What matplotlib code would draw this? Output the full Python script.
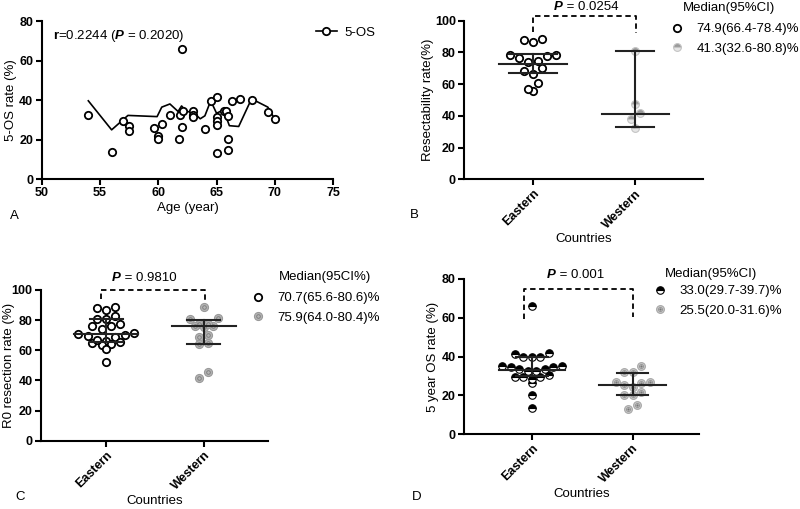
import numpy as np
import matplotlib
matplotlib.use("Agg")
import matplotlib.pyplot as plt
from matplotlib.lines import Line2D
from matplotlib.legend_handler import HandlerTuple

plt.rcParams['font.family'] = ['Liberation Sans', 'DejaVu Sans']
plt.rcParams['mathtext.fontset'] = 'custom'
plt.rcParams['mathtext.rm'] = 'Liberation Sans'
plt.rcParams['mathtext.it'] = 'Liberation Sans:italic'
plt.rcParams['mathtext.bf'] = 'Liberation Sans:bold'
plt.rcParams['mathtext.bfit'] = 'Liberation Sans:bold:italic'

# ---- panel A: age vs 5-year OS ----
age = [54.0, 56.0, 57.0, 57.5, 57.5, 59.6, 60.0, 60.0, 60.3, 61.0, 61.8, 61.9,
       62.0, 62.0, 62.1, 63.0, 63.0, 63.0, 64.0, 64.5, 65.0, 65.0, 65.0, 65.0,
       65.0, 65.6, 65.8, 66.0, 66.0, 66.0, 66.3, 67.0, 68.0, 69.4, 70.0]
os5 = [32.5, 13.5, 29.6, 27.0, 24.4, 26.0, 21.9, 20.2, 28.1, 32.5, 20.2, 32.5,
       65.8, 26.1, 34.5, 34.5, 32.5, 31.6, 25.4, 39.6, 41.5, 31.5, 29.5, 27.3,
       13.0, 34.5, 34.5, 32.0, 20.2, 14.8, 39.7, 40.6, 40.0, 33.8, 30.3]
fit_age = [54.0, 56.0, 57.4, 59.9, 60.3, 61.0, 61.7, 62.0, 62.4, 63.0, 63.6,
           64.0, 64.5, 65.0, 65.6, 66.1, 66.9, 68.0, 69.4, 70.0]
fit_os = [39.6, 24.9, 32.2, 31.6, 36.4, 38.0, 34.2, 37.0, 34.2, 33.8, 30.5,
          32.0, 39.6, 33.3, 35.0, 27.0, 26.6, 40.6, 36.4, 30.3]

groups = ['Eastern', 'Western']

# ---- panel B: resectability ----
b_east = [87.8, 86.3, 88.4, 78.4, 76.3, 74.2, 74.8, 77.7, 78.4, 68.5, 66.4,
          70.0, 60.9, 55.9, 56.7]
b_west = [81.1, 47.5, 41.6, 38.0, 32.6]
b_stats = [(72.7, 67.2, 79.0), (41.4, 32.8, 80.9)]
b_labels = ['74.9(66.4-78.4)%', '41.3(32.6-80.8)%']

# ---- panel C: R0 resection ----
c_east = [88.9, 87.8, 86.7, 82.7, 80.8, 80.8, 77.4, 76.3, 76.3, 74.1, 71.2,
          69.5, 70.1, 68.6, 70.8, 66.4, 65.0, 64.2, 65.7, 63.5, 60.6, 52.4, 66.8]
c_west = [88.5, 81.6, 80.6, 77.2, 76.3, 75.2, 76.3, 77.2, 70.1, 69.0, 64.6,
          64.2, 45.8, 41.4]
c_stats = [(70.7, 65.6, 80.6), (76.0, 64.0, 80.4)]
c_labels = ['70.7(65.6-80.6)%', '75.9(64.0-80.4)%']

# ---- panel D: 5 year OS ----
d_east = [66.1, 41.6, 39.9, 39.9, 39.9, 41.1, 35.1, 34.4, 33.4, 32.7, 32.7,
          33.4, 34.4, 35.1, 30.5, 29.6, 29.6, 29.6, 28.2, 26.2, 20.1, 13.6]
d_west = [32.2, 32.2, 35.1, 27.0, 24.4, 25.3, 26.2, 27.0, 20.1, 20.1, 21.8,
          12.7, 15.0]
d_stats = [(33.0, 29.7, 39.7), (25.5, 20.0, 31.6)]
d_labels = ['33.0(29.7-39.7)%', '25.5(20.0-31.6)%']

TICK = 9
LAB = 9.5
W, H = 800, 509


def swarm(vals, xpix, ypix, step, binpx):
    # GraphPad-like rows: group close values, spread them side by side
    vals = np.asarray(vals, float)
    order = np.argsort(-vals, kind='stable')
    offs = np.zeros(len(vals))
    i = 0
    while i < len(order):
        top = vals[order[i]]
        row = [order[i]]
        j = i + 1
        while j < len(order) and (top - vals[order[j]]) * ypix < binpx:
            row.append(order[j])
            j += 1
        k = len(row)
        pos = (np.arange(k) - (k - 1) / 2) * step
        pos = pos[np.argsort(np.abs(pos), kind='stable')]
        row = sorted(row, key=lambda r: vals[r])
        for r, p in zip(row, pos):
            offs[r] = p / xpix
        i = j
    return offs


def style_axes(ax):
    for s in ['top', 'right']:
        ax.spines[s].set_visible(False)
    for s in ['left', 'bottom']:
        ax.spines[s].set_linewidth(1.5)
    ax.tick_params(width=1.5, length=4, labelsize=TICK, pad=2)
    for t in ax.get_xticklabels() + ax.get_yticklabels():
        t.set_fontweight('bold')


fig = plt.figure(figsize=(8.0, 5.09), dpi=100)

# ---------------- A ----------------
axA = fig.add_axes([0.0521, 0.6483, 0.3643, 0.3104])
axA.plot(age, os5, ls='none', marker='o', ms=5.3, mfc='white', mec='black',
         mew=1.3, zorder=3)
axA.plot(fit_age, fit_os, color='black', lw=1.2, zorder=2)
axA.set_xlim(50, 75)
axA.set_ylim(0, 80)
axA.set_xticks(range(50, 80, 5))
axA.set_yticks(range(0, 81, 20))
axA.set_xlabel('Age (year)', fontsize=LAB, labelpad=2)
axA.set_ylabel('5-OS rate (%)', fontsize=LAB)
axA.yaxis.set_label_coords(-0.083, 0.5)
style_axes(axA)
axA.text(51.0, 72.4, r'$\mathbf{r}$=0.2244 ($\mathbfit{P}$ = 0.2020)',
         fontsize=LAB, ha='left', va='center')
h = Line2D([], [], color='black', lw=1.2, marker='o', ms=5.3, mfc='white',
           mec='black', mew=1.3)
axA.legend([h], ['5-OS'], loc='center left', bbox_to_anchor=(0.9, 0.925),
           frameon=False, fontsize=LAB, handlelength=1.6, handletextpad=0.6)
fig.text(0.0125, 0.575, 'A', fontsize=LAB, ha='left', va='center')


def dot_panel(ax, east, west, stats, mk, legend_labels, title, ymax, ystep,
              ci_w, bracket, ptext, leg_pos, step=9.3, binpx=7.5):
    x0, x1 = -0.67, 1.66
    ax.set_xlim(x0, x1)
    ax.set_ylim(0, ymax)
    bb = ax.get_window_extent(fig.canvas.get_renderer())
    xpix = bb.width / (x1 - x0)
    ypix = bb.height / ymax
    handles = []
    for i, vals in enumerate([east, west]):
        offs = swarm(vals, xpix, ypix, step, binpx)
        for kw in mk[i]:
            ax.plot(i + offs, vals, ls='none', zorder=3, **kw)
        handles.append(tuple(Line2D([], [], ls='none', **kw) for kw in mk[i]))
        med, lo, hi = stats[i]
        ax.plot([i - 0.33, i + 0.33], [med, med], color='#222222', lw=1.5, zorder=4)
        ax.plot([i - ci_w[i], i + ci_w[i]], [lo, lo], color='#222222', lw=1.5, zorder=4)
        ax.plot([i - ci_w[i], i + ci_w[i]], [hi, hi], color='#222222', lw=1.5, zorder=4)
        ax.plot([i, i], [lo, hi], color='#222222', lw=1.5, zorder=4)
    bx0, bx1, by0, bytop, by1 = bracket
    ax.plot([bx0, bx0, bx1, bx1], [by0, bytop, bytop, by1], color='black',
            lw=1.3, ls=(0, (3, 2)), clip_on=False)
    px, py, pval = ptext
    ax.text(px, py, 'P', fontsize=LAB, fontweight='bold', fontstyle='italic',
            ha='right', va='center')
    ax.text(px, py, ' = ' + pval, fontsize=LAB, ha='left', va='center')
    ax.set_xticks([0, 1])
    ax.set_xticklabels(groups, rotation=45, ha='right', rotation_mode='anchor')
    ax.set_yticks(np.arange(0, ymax + 1, ystep))
    ax.set_xlabel('Countries', fontsize=LAB, labelpad=2)
    style_axes(ax)
    # legend: title text + marker entries (pixel positions in the figure)
    title_x, title_y, mark_x, row1_y = leg_pos
    fig.text(title_x / W, 1 - title_y / H, title, fontsize=LAB,
             ha='left', va='center')
    half = 0.8 * LAB * 100 / 72 / 2
    ax.legend(handles, legend_labels, loc='upper left',
              bbox_to_anchor=((mark_x - half) / W, 1 - (row1_y - 7) / H),
              bbox_transform=fig.transFigure, frameon=False, fontsize=LAB,
              handlelength=0.8, handletextpad=1.1, labelspacing=0.55,
              borderpad=0, borderaxespad=0,
              handler_map={tuple: HandlerTuple(ndivide=1, pad=0)})


mk_open = [dict(marker='o', ms=5.3, mfc='white', mec='black', mew=1.3)]
mk_half_gray = [dict(marker='o', ms=5.6, fillstyle='top', mfc='#9a9a9a',
                     mfcalt='#e6e6e6', mec='#c4c4c4', mew=0.8)]
mk_gray_x = [dict(marker='o', ms=5.8, mfc='#b4b4b4', mec='#9a9a9a', mew=0.8),
             dict(marker='o', ms=2.6, mfc='none', mec='#7a7a7a', mew=0.6)]
mk_half_black = [dict(marker='o', ms=5.4, fillstyle='top', mfc='black',
                      mfcalt='white', mec='black', mew=0.8)]
mk_ring_gray = [dict(marker='o', ms=5.6, mfc='#c8c8c8', mec='#a8a8a8', mew=0.8),
                dict(marker='o', ms=2.8, mfc='#e4e4e4', mec='#8c8c8c', mew=0.6),
                dict(marker='.', ms=1.5, color='#777777')]

# ---------------- B ----------------
axB = fig.add_axes([0.5804, 0.6477, 0.2984, 0.3116])
dot_panel(axB, b_east, b_west, b_stats, [mk_open, mk_half_gray], b_labels,
          'Median(95%CI)', 100, 20, [0.235, 0.185],
          (0.0, 1.01, 93.0, 103.0, 92.0), (0.29, 108.6, '0.0254'),
          (683, 8, 677, 30))
axB.set_ylabel('Resectability rate(%)', fontsize=LAB)
axB.yaxis.set_label_coords(-0.125, 0.5)
fig.text(0.5125, 0.578, 'B', fontsize=LAB, ha='left', va='center')

# ---------------- C ----------------
axC = fig.add_axes([0.0509, 0.1342, 0.2845, 0.2961])
dot_panel(axC, c_east, c_west, c_stats, [mk_open, mk_gray_x], c_labels,
          'Median(95CI%)', 100, 20, [0.17, 0.17],
          (-0.054, 1.01, 94.0, 100.0, 93.4), (0.15, 107.8, '0.9810'),
          (279, 277, 258, 299))
axC.set_ylabel('R0 resection rate (%)', fontsize=LAB)
axC.yaxis.set_label_coords(-0.112, 0.5)
fig.text(0.019, 0.024, 'C', fontsize=LAB, ha='left', va='center')

# ---------------- D ----------------
axD = fig.add_axes([0.5804, 0.1473, 0.2934, 0.3046])
dot_panel(axD, d_east, d_west, d_stats, [mk_half_black, mk_ring_gray], d_labels,
          'Median(95%CI)', 80, 20, [0.157, 0.157],
          (-0.08, 1.0, 59.2, 74.7, 60.6), (0.236, 82.0, '0.001'),
          (665, 274, 660, 292), step=8.5)
axD.set_ylabel('5 year OS rate (%)', fontsize=LAB)
axD.yaxis.set_label_coords(-0.11, 0.5)
fig.text(0.515, 0.024, 'D', fontsize=LAB, ha='left', va='center')

fig.savefig('out.png', dpi=100)
